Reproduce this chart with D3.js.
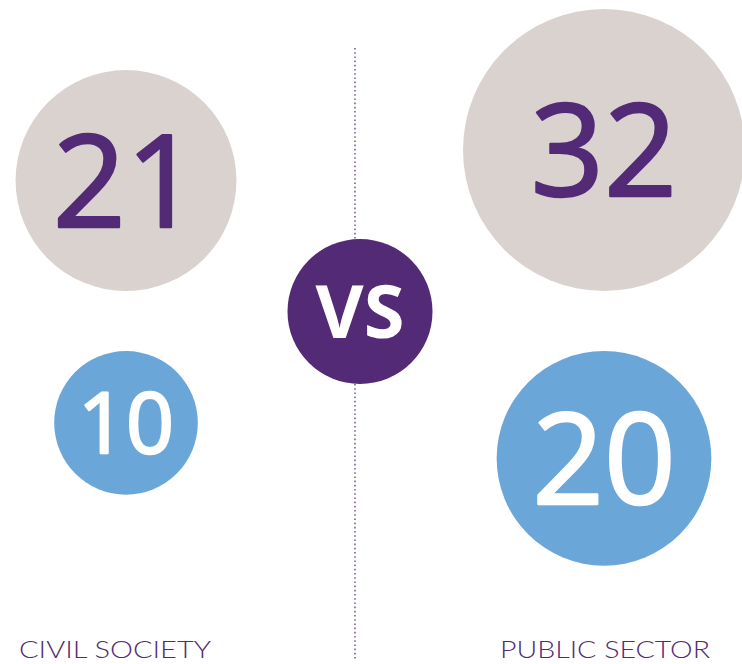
<!DOCTYPE html>
<html>
<head>
<meta charset="utf-8">
<script src="https://cdn.jsdelivr.net/npm/d3@7/dist/d3.min.js"></script>
<style>
  html, body { margin: 0; padding: 0; background: #fff; }
  svg { display: block; }
</style>
</head>
<body>
<svg id="chart" width="742" height="664"></svg>
<script>
// Sectors compared side by side
const sectors = ["CIVIL SOCIETY", "PUBLIC SECTOR"];
// Upper (grey) bubble values per sector
const upperValues = [21, 32];
// Lower (blue) bubble values per sector
const lowerValues = [10, 20];
const vsLabel = "VS";

const W = 742, H = 664;
const purple = "#522a76";
const grey = "#dad2cf";
const blue = "#6ba6d9";
const numFont = "'Open Sans', Lato, sans-serif";
const labelFont = "Lato, 'Open Sans', sans-serif";

const svg = d3.select("#chart");

// Column positions for the two sectors
const x = d3.scalePoint().domain(sectors).range([126, 604]);
// Bubble radius from value
const r = d3.scalePow().exponent(0.58).domain([0, 32]).range([0, 141]);

// Upper bubbles rest on one line, lower bubbles hang from another
const upperBottom = 291, lowerTop = 351;

// Dotted divider
svg.append("line")
  .attr("x1", 355).attr("x2", 355)
  .attr("y1", 48).attr("y2", 660)
  .attr("stroke", "#7d62a0")
  .attr("stroke-width", 1.6)
  .attr("stroke-dasharray", "1.6,2.6");

const numSize = rad => Math.min(rad * 1.17, 128);

function bubbles(values, fill, textFill, cyOf) {
  const g = svg.append("g");
  const d = sectors.map((s, i) => ({ s, v: values[i] }));
  g.selectAll("circle").data(d).join("circle")
    .attr("cx", e => x(e.s))
    .attr("cy", e => cyOf(r(e.v)))
    .attr("r", e => r(e.v))
    .attr("fill", fill);
  // medium-weight numerals: regular face with a thin matching outline
  g.selectAll("text").data(d).join("text")
    .attr("x", e => x(e.s))
    .attr("y", e => cyOf(r(e.v)))
    .attr("dy", "0.36em")
    .attr("text-anchor", "middle")
    .attr("font-family", numFont)
    .attr("font-weight", 400)
    .attr("font-size", e => numSize(r(e.v)))
    .attr("fill", textFill)
    .attr("stroke", textFill)
    .attr("stroke-width", 2.4)
    .attr("stroke-linejoin", "round")
    .text(e => e.v);
}

bubbles(upperValues, grey, purple, rad => upperBottom - rad);
bubbles(lowerValues, blue, "#ffffff", rad => lowerTop + rad);

// Central "VS" badge
svg.append("circle")
  .attr("cx", 360).attr("cy", 311.5).attr("r", 72.5)
  .attr("fill", purple);
svg.append("text")
  .attr("x", 360).attr("y", 338)
  .attr("text-anchor", "middle")
  .attr("font-family", numFont)
  .attr("font-weight", 700)
  .attr("font-size", 74)
  .attr("fill", "#fff")
  .text(vsLabel);

// Sector labels
const labelX = [115, 605];
const labelW = [192, 210];
svg.selectAll("text.sector").data(sectors).join("text")
  .attr("class", "sector")
  .attr("x", (s, i) => labelX[i])
  .attr("y", 658)
  .attr("text-anchor", "middle")
  .attr("font-family", labelFont)
  .attr("font-weight", 300)
  .attr("font-size", 23)
  .attr("textLength", (s, i) => labelW[i])
  .attr("lengthAdjust", "spacingAndGlyphs")
  .attr("fill", purple)
  .text(s => s);
</script>
</body>
</html>
